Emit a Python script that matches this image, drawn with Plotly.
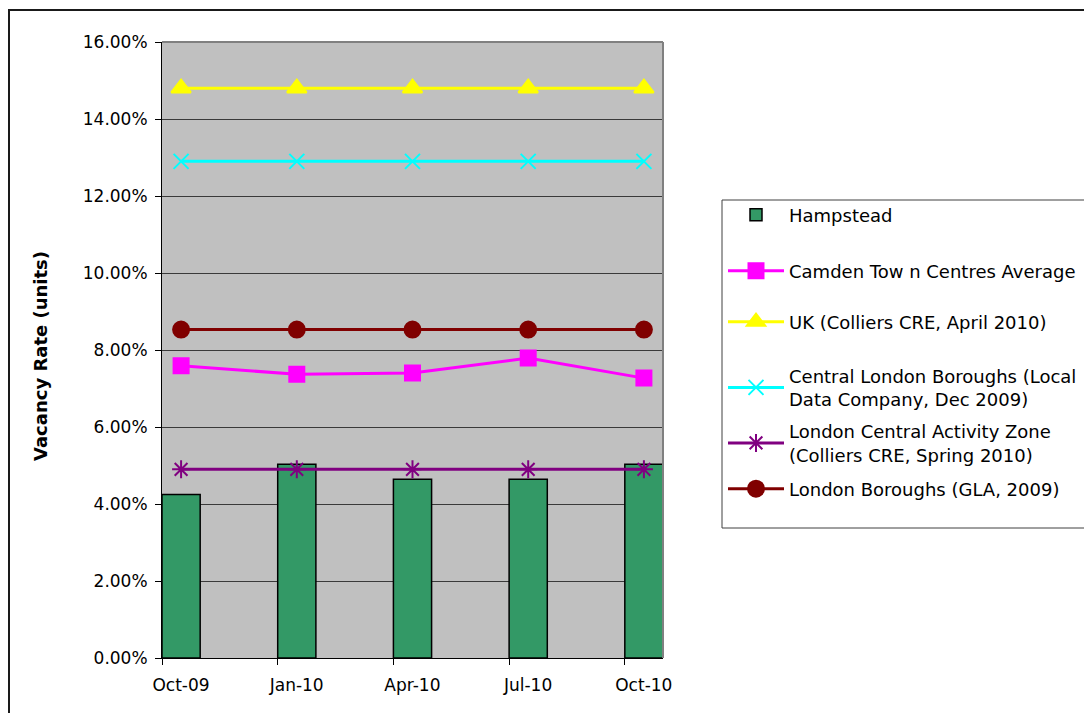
import plotly.graph_objects as go

# Quarterly periods on the horizontal axis
periods = ["Oct-09", "Jan-10", "Apr-10", "Jul-10", "Oct-10"]

# Vacancy rates (fraction of units)
hampstead = [0.0425, 0.0503, 0.0464, 0.0464, 0.0503]
camden_avg = [0.0759, 0.0737, 0.0740, 0.0779, 0.0727]
uk_colliers = [0.148, 0.148, 0.148, 0.148, 0.148]
central_london = [0.129, 0.129, 0.129, 0.129, 0.129]
london_caz = [0.049, 0.049, 0.049, 0.049, 0.049]
london_boroughs = [0.0853, 0.0853, 0.0853, 0.0853, 0.0853]

W, H = 1084, 713
L, R, T, B = 162, 663, 42, 658  # plot area in pixels
BAR_W = 0.33
x = list(range(len(periods)))

def px_x(p):
    return (p - L) / (R - L)

def px_y(p):
    return (B - p) / (B - T)

FONT = "DejaVu Sans"
fig = go.Figure()

fig.add_trace(go.Bar(
    x=x, y=hampstead, width=BAR_W, name="Hampstead",
    marker=dict(color="#339966", line=dict(color="black", width=1.5)),
    legend="legend",
))

series = [
    ("Camden Tow n Centres Average", camden_avg, "#FF00FF", "square", 15, "legend2"),
    ("UK (Colliers CRE, April 2010)", uk_colliers, "#FFFF00", "triangle-up", 17, "legend3"),
    ("Central London Boroughs (Local<br>Data Company, Dec 2009)", central_london, "#00FFFF", "x-thin-open", 15, "legend4"),
    ("London Central Activity Zone<br>(Colliers CRE, Spring 2010)", london_caz, "#800080", "asterisk-open", 15, "legend5"),
    ("London Boroughs (GLA, 2009)", london_boroughs, "#800000", "circle", 16, "legend6"),
]
for name, vals, col, sym, size, leg in series:
    fig.add_trace(go.Scatter(
        x=x, y=vals, name=name, mode="lines+markers",
        line=dict(color=col, width=3),
        marker=dict(symbol=sym, size=size, color=col, line=dict(color=col, width=2)),
        legend=leg,
    ))

# Legend entries, one per slot, centred on these pixel rows
legend_rows = [215, 271, 322, 387.5, 443, 489]
legend_x = px_x(723)
legends = {}
for i, row in enumerate(legend_rows):
    key = "legend" if i == 0 else f"legend{i + 1}"
    legends[key] = dict(
        x=legend_x, xanchor="left", y=px_y(row), yanchor="middle",
        bgcolor="rgba(0,0,0,0)", borderwidth=0, itemwidth=56,
        font=dict(family=FONT, size=18, color="black"),
    )

fig.update_layout(
    width=W, height=H,
    margin=dict(l=L, r=W - R, t=T, b=H - B, autoexpand=False),
    paper_bgcolor="white", plot_bgcolor="#C0C0C0",
    showlegend=True,
    font=dict(family=FONT, size=17, color="black"),
    xaxis=dict(
        range=[-BAR_W / 2, len(periods) - 1 + BAR_W / 2],
        tickvals=[v - BAR_W / 2 for v in x], ticktext=periods,
        ticklabelshift=19, ticklabelstandoff=6,
        ticks="outside", ticklen=6, tickcolor="black",
        showgrid=False, zeroline=False,
        showline=True, linecolor="black", linewidth=1,
        tickfont=dict(family=FONT, size=17),
    ),
    yaxis=dict(
        range=[0, 0.16], dtick=0.02, tickformat=".2%",
        ticks="outside", ticklen=6, tickcolor="black",
        ticklabelstandoff=4,
        showgrid=True, gridcolor="#3a3a3a", gridwidth=1,
        zeroline=False, showline=True, linecolor="black", linewidth=1,
        tickfont=dict(family=FONT, size=17),
    ),
    **legends,
)

# Plot-area frame (top and right), legend box and outer chart border
fig.add_shape(type="line", xref="paper", yref="paper", x0=0, x1=1, y0=1, y1=1,
              line=dict(color="#808080", width=2))
fig.add_shape(type="line", xref="paper", yref="paper", x0=1, x1=1, y0=0, y1=1,
              line=dict(color="#808080", width=2))
fig.add_shape(type="rect", xref="paper", yref="paper",
              x0=px_x(722), x1=px_x(1100), y0=px_y(528), y1=px_y(200),
              line=dict(color="#404040", width=1))
fig.add_shape(type="rect", xref="paper", yref="paper",
              x0=px_x(9), x1=px_x(1100), y0=px_y(730), y1=px_y(10),
              line=dict(color="#1a1a1a", width=2))

fig.add_annotation(
    text="<b>Vacancy Rate (units)</b>", textangle=-90,
    xref="paper", yref="paper", x=px_x(40), y=px_y(356),
    xanchor="center", yanchor="middle", showarrow=False,
    font=dict(family=FONT, size=18, color="black"),
)

fig.write_html("out.html")
